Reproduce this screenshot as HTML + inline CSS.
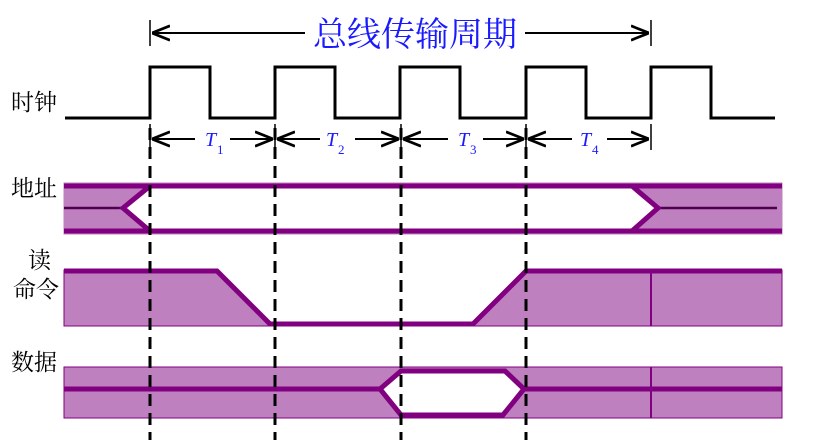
<!DOCTYPE html>
<html><head><meta charset="utf-8"><style>
html,body{margin:0;padding:0;background:#fff;width:827px;height:440px;overflow:hidden}
svg{display:block}
text{font-family:"Liberation Serif","Noto Serif CJK SC",serif}
</style></head><body>
<svg width="827" height="440" viewBox="0 0 827 440">
<defs>
<marker id="a" viewBox="0 0 10 10" refX="10" refY="5" markerWidth="9" markerHeight="9" orient="auto-start-reverse"><path d="M0,1 L10,5 L0,9" fill="none" stroke="#000" stroke-width="1.5"/></marker>
</defs>
<line x1="150" y1="20" x2="150" y2="46" stroke="#000" stroke-width="1.5"/>
<line x1="651" y1="20" x2="651" y2="46" stroke="#000" stroke-width="1.5"/>
<line x1="152" y1="33" x2="305" y2="33" stroke="#000" stroke-width="2" marker-start="url(#a)"/>
<line x1="525" y1="33" x2="649" y2="33" stroke="#000" stroke-width="2" marker-end="url(#a)"/>
<text x="415" y="46" font-size="34" fill="#1a1aff" text-anchor="middle" font-family="Noto Sans CJK SC,sans-serif">总线传输周期</text>
<g font-size="23" fill="#000" font-family="Noto Serif CJK SC,serif">
<text x="11" y="110" font-family="Noto Serif CJK SC,serif">时钟</text>
<text x="11" y="196" font-family="Noto Serif CJK SC,serif">地址</text>
<text x="28" y="268" font-family="Noto Serif CJK SC,serif">读</text>
<text x="13" y="297" font-family="Noto Serif CJK SC,serif">命令</text>
<text x="11" y="370" font-family="Noto Serif CJK SC,serif">数据</text>
</g>
<polyline points="65,118 150,118 150,67 210,67 210,118 275,118 275,67 335,67 335,118 400,118 400,67 460,67 460,118 526,118 526,67 586,67 586,118 651,118 651,67 711,67 711,118 775,118" fill="none" stroke="#000" stroke-width="3"/>
<g stroke="#000" stroke-width="1.5">
<line x1="150" y1="124" x2="150" y2="150"/><line x1="275" y1="124" x2="275" y2="150"/><line x1="401" y1="124" x2="401" y2="150"/><line x1="526" y1="124" x2="526" y2="150"/><line x1="651" y1="124" x2="651" y2="150"/>
</g>
<g stroke="#000" stroke-width="2" fill="none">
<line x1="152" y1="139" x2="195" y2="139" marker-start="url(#a)"/><line x1="230" y1="139" x2="273" y2="139" marker-end="url(#a)"/>
<line x1="277" y1="139" x2="320" y2="139" marker-start="url(#a)"/><line x1="355" y1="139" x2="399" y2="139" marker-end="url(#a)"/>
<line x1="403" y1="139" x2="448" y2="139" marker-start="url(#a)"/><line x1="483" y1="139" x2="524" y2="139" marker-end="url(#a)"/>
<line x1="528" y1="139" x2="572" y2="139" marker-start="url(#a)"/><line x1="607" y1="139" x2="649" y2="139" marker-end="url(#a)"/>
</g>
<g fill="#1a1aff" font-style="italic" font-size="20">
<text x="205" y="146">T</text><text x="326" y="146">T</text><text x="458" y="146">T</text><text x="580" y="146">T</text>
</g>
<g fill="#1a1aff" font-size="13">
<text x="217" y="154">1</text><text x="338" y="154">2</text><text x="470" y="154">3</text><text x="592" y="154">4</text>
</g>
<rect x="64" y="183" width="718" height="51" fill="none" stroke="#bf80bf" stroke-width="1"/>
<polygon points="64,185 150,185 123,208 150,231 64,231" fill="#bf80bf"/>
<polygon points="782,185 632,185 658,208 632,231 782,231" fill="#bf80bf"/>
<line x1="64" y1="208" x2="123" y2="208" stroke="#500050" stroke-width="2.5"/>
<line x1="658" y1="208" x2="777" y2="208" stroke="#500050" stroke-width="2.5"/>
<g stroke="#800080" stroke-width="5" fill="none">
<line x1="64" y1="186" x2="782" y2="186"/><line x1="64" y1="231" x2="782" y2="231"/>
<polyline points="150,186 123,208 150,231"/><polyline points="632,186 658,208 632,231"/>
</g>
<polygon points="64,270 217,270 270,326 64,326" fill="#bf80bf" stroke="#800080" stroke-width="1"/>
<polygon points="473,326 526,270 782,270 782,326" fill="#bf80bf" stroke="#800080" stroke-width="1"/>
<line x1="651" y1="270" x2="651" y2="326" stroke="#800080" stroke-width="2"/>
<polyline points="64,271 217,271 270,324 473,324 526,271 782,271" fill="none" stroke="#800080" stroke-width="5"/>
<rect x="64" y="367" width="718" height="51" fill="#bf80bf" stroke="#800080" stroke-width="1"/>
<polygon points="380,389 401,371 505,371 524,389 503,415 401,415" fill="#fff"/>
<line x1="651" y1="367" x2="651" y2="418" stroke="#800080" stroke-width="2"/>
<g stroke="#800080" stroke-width="5" fill="none">
<line x1="64" y1="389" x2="380" y2="389"/><line x1="524" y1="389" x2="782" y2="389"/>
<polygon points="380,389 401,371 505,371 524,389 503,415 401,415"/>
</g>
<g stroke="#000" stroke-width="3" stroke-dasharray="12,7">
<line x1="150" y1="128" x2="150" y2="440"/><line x1="275" y1="128" x2="275" y2="440"/><line x1="401" y1="128" x2="401" y2="440"/><line x1="526" y1="128" x2="526" y2="440"/>
</g>
</svg>
</body></html>
